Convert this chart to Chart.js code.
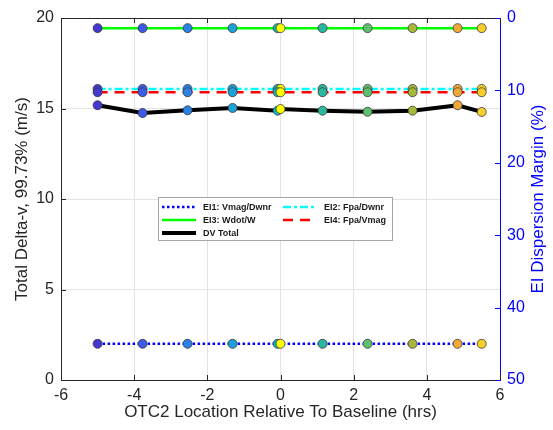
<!DOCTYPE html>
<html lang="en">
<head>
    <meta charset="UTF-8">
    <title>Delta-v vs OTC2 location</title>
    <script src="https://cdn.jsdelivr.net/npm/chart.js"></script>
    <style>
        body { margin: 0; background: #fff; }
        canvas { display: block; }
    </style>
</head>
<body>
<canvas id="dvChart" width="553" height="430"></canvas>
<script>
    // OTC2 offsets from baseline (hrs); the 0 entry is the baseline case
    const hours = [-5, -3.77, -2.54, -1.31, -0.08, 0, 1.15, 2.38, 3.61, 4.84, 5.5];
    // Total delta-v, 99.73% (m/s)
    const dvTotal = [15.18, 14.75, 14.90, 15.03, 14.88, 14.97, 14.88, 14.82, 14.88, 15.18, 14.81];
    // EI dispersion margins (%)
    const ei1 = [45, 45, 45, 45, 45, 45, 45, 45, 45, 45, 45];
    const ei2 = [9.8, 9.8, 9.8, 9.8, 9.8, 9.8, 9.8, 9.8, 9.8, 9.8, 9.8];
    const ei3 = [1.4, 1.4, 1.4, 1.4, 1.4, 1.4, 1.4, 1.4, 1.4, 1.4, 1.4];
    const ei4 = [10.25, 10.25, 10.25, 10.25, 10.25, 10.25, 10.25, 10.25, 10.25, 10.25, 10.25];
    const caseColors = ['#4438cf', '#3d5be6', '#2b81e8', '#1ea0d8', '#12b4c0', '#ffff00',
                        '#2ab8a0', '#5ec06e', '#a8b83a', '#f0a838', '#f8cf2a'];
    const xTicks = [-6, -4, -2, 0, 2, 4, 6];
    const dvTicks = [0, 5, 10, 15, 20];
    const marginTicks = [0, 10, 20, 30, 40, 50];

    const FONT = '"Liberation Sans", Arial, sans-serif';
    const AXIS_GREY = '#262626';
    const pts = vals => hours.map((h, i) => ({ x: h, y: vals[i] }));

    function lineSet(label, vals, axis, color, width, dash) {
        return {
            label: label, data: pts(vals), yAxisID: axis, showLine: true,
            borderColor: color, borderWidth: width, borderDash: dash,
            pointRadius: 0, order: 10
        };
    }
    function markerSet(vals, axis) {
        return {
            data: pts(vals), yAxisID: axis, showLine: false,
            pointRadius: 4.5, pointBackgroundColor: caseColors,
            pointBorderColor: '#3a3a3a', pointBorderWidth: 0.8, order: 1
        };
    }

    // legend box, axis titles, inward tick marks and the top frame line
    const decorations = {
        id: 'decorations',
        afterDraw(chart) {
            const ctx = chart.ctx;
            const a = chart.chartArea;
            const sx = chart.scales.x, sy = chart.scales.y, sy2 = chart.scales.y2;
            ctx.save();

            ctx.strokeStyle = AXIS_GREY;
            ctx.lineWidth = 1;
            ctx.beginPath();
            ctx.moveTo(a.left, a.top + 0.5);
            ctx.lineTo(a.right, a.top + 0.5);
            xTicks.forEach(t => {
                const px = Math.round(sx.getPixelForValue(t)) + 0.5;
                ctx.moveTo(px, a.bottom); ctx.lineTo(px, a.bottom - 5);
                ctx.moveTo(px, a.top); ctx.lineTo(px, a.top + 5);
            });
            dvTicks.forEach(t => {
                const py = Math.round(sy.getPixelForValue(t)) + 0.5;
                ctx.moveTo(a.left, py); ctx.lineTo(a.left + 5, py);
            });
            ctx.stroke();
            ctx.strokeStyle = '#0000ff';
            ctx.beginPath();
            marginTicks.forEach(t => {
                const py = Math.round(sy2.getPixelForValue(t)) + 0.5;
                ctx.moveTo(a.right, py); ctx.lineTo(a.right - 5, py);
            });
            ctx.stroke();

            // axis titles
            ctx.font = '17px ' + FONT;
            ctx.textAlign = 'center';
            ctx.textBaseline = 'middle';
            ctx.fillStyle = AXIS_GREY;
            ctx.fillText('OTC2 Location Relative To Baseline (hrs)', (a.left + a.right) / 2, 412);
            const midY = (a.top + a.bottom) / 2;
            ctx.save();
            ctx.translate(22, midY);
            ctx.rotate(-Math.PI / 2);
            ctx.fillText('Total Delta-v, 99.73% (m/s)', 0, 0);
            ctx.restore();
            ctx.save();
            ctx.translate(538, midY);
            ctx.rotate(-Math.PI / 2);
            ctx.fillStyle = '#0000ff';
            ctx.fillText('EI Dispersion Margin (%)', 0, 0);
            ctx.restore();

            // legend
            const box = { x: 158, y: 197, w: 234, h: 43 };
            ctx.fillStyle = '#ffffff';
            ctx.fillRect(box.x, box.y, box.w, box.h);
            ctx.strokeStyle = '#a6a6a6';
            ctx.strokeRect(box.x + 0.5, box.y + 0.5, box.w, box.h);
            const entries = [
                { t: 'EI1: Vmag/Dwnr', c: '#0000ff', w: 2.5, d: [2.5, 2.5], col: 0, row: 0 },
                { t: 'EI2: Fpa/Dwnr', c: '#00ffff', w: 2.5, d: [8, 3, 3, 3], col: 1, row: 0 },
                { t: 'EI3: Wdot/W', c: '#00ff00', w: 2.5, d: [], col: 0, row: 1 },
                { t: 'EI4: Fpa/Vmag', c: '#ff0000', w: 2.5, d: [10, 7], col: 1, row: 1 },
                { t: 'DV Total', c: '#000000', w: 4, d: [], col: 0, row: 2 }
            ];
            ctx.font = 'bold 9px ' + FONT;
            ctx.textAlign = 'left';
            entries.forEach(e => {
                const x0 = e.col === 0 ? 162 : 283;
                const y = 207 + e.row * 13;
                ctx.strokeStyle = e.c;
                ctx.lineWidth = e.w;
                ctx.setLineDash(e.d);
                ctx.beginPath();
                ctx.moveTo(x0, y);
                ctx.lineTo(x0 + 34, y);
                ctx.stroke();
                ctx.setLineDash([]);
                ctx.fillStyle = '#1a1a1a';
                ctx.fillText(e.t, x0 + 41, y + 0.5);
            });
            ctx.restore();
        }
    };

    new Chart(document.getElementById('dvChart'), {
        type: 'scatter',
        data: {
            datasets: [
                lineSet('EI1: Vmag/Dwnr', ei1, 'y2', '#0000ff', 2.5, [2.5, 2.5]),
                lineSet('EI2: Fpa/Dwnr', ei2, 'y2', '#00ffff', 2.5, [8, 3, 3, 3]),
                lineSet('EI3: Wdot/W', ei3, 'y2', '#00ff00', 2.5, []),
                lineSet('EI4: Fpa/Vmag', ei4, 'y2', '#ff0000', 2.5, [10, 7]),
                lineSet('DV Total', dvTotal, 'y', '#000000', 4, []),
                markerSet(ei1, 'y2'),
                markerSet(ei4, 'y2'),
                markerSet(ei2, 'y2'),
                markerSet(ei3, 'y2'),
                markerSet(dvTotal, 'y')
            ]
        },
        options: {
            responsive: false,
            animation: false,
            layout: { padding: { top: 18, left: 0, right: 0, bottom: 0 } },
            plugins: { legend: { display: false }, tooltip: { enabled: false } },
            scales: {
                x: {
                    type: 'linear', min: -6, max: 6,
                    afterFit: s => { s.height = 50; },
                    afterBuildTicks: s => { s.ticks = xTicks.map(v => ({ value: v })); },
                    grid: { color: '#e3e3e3', drawTicks: false },
                    border: { color: AXIS_GREY },
                    ticks: { padding: 6, color: AXIS_GREY, font: { family: FONT, size: 16 } }
                },
                y: {
                    position: 'left', min: 0, max: 20,
                    afterFit: s => { s.width = 61; },
                    afterBuildTicks: s => { s.ticks = dvTicks.map(v => ({ value: v })); },
                    grid: { color: '#e3e3e3', drawTicks: false },
                    border: { color: AXIS_GREY },
                    ticks: { padding: 7, color: AXIS_GREY, font: { family: FONT, size: 16 } }
                },
                y2: {
                    position: 'right', min: 0, max: 50, reverse: true,
                    afterFit: s => { s.width = 53; },
                    afterBuildTicks: s => { s.ticks = marginTicks.map(v => ({ value: v })); },
                    grid: { drawOnChartArea: false, drawTicks: false },
                    border: { color: '#0000ff' },
                    ticks: { padding: 7, color: '#0000ff', font: { family: FONT, size: 16 } }
                }
            }
        },
        plugins: [decorations]
    });
</script>
</body>
</html>
